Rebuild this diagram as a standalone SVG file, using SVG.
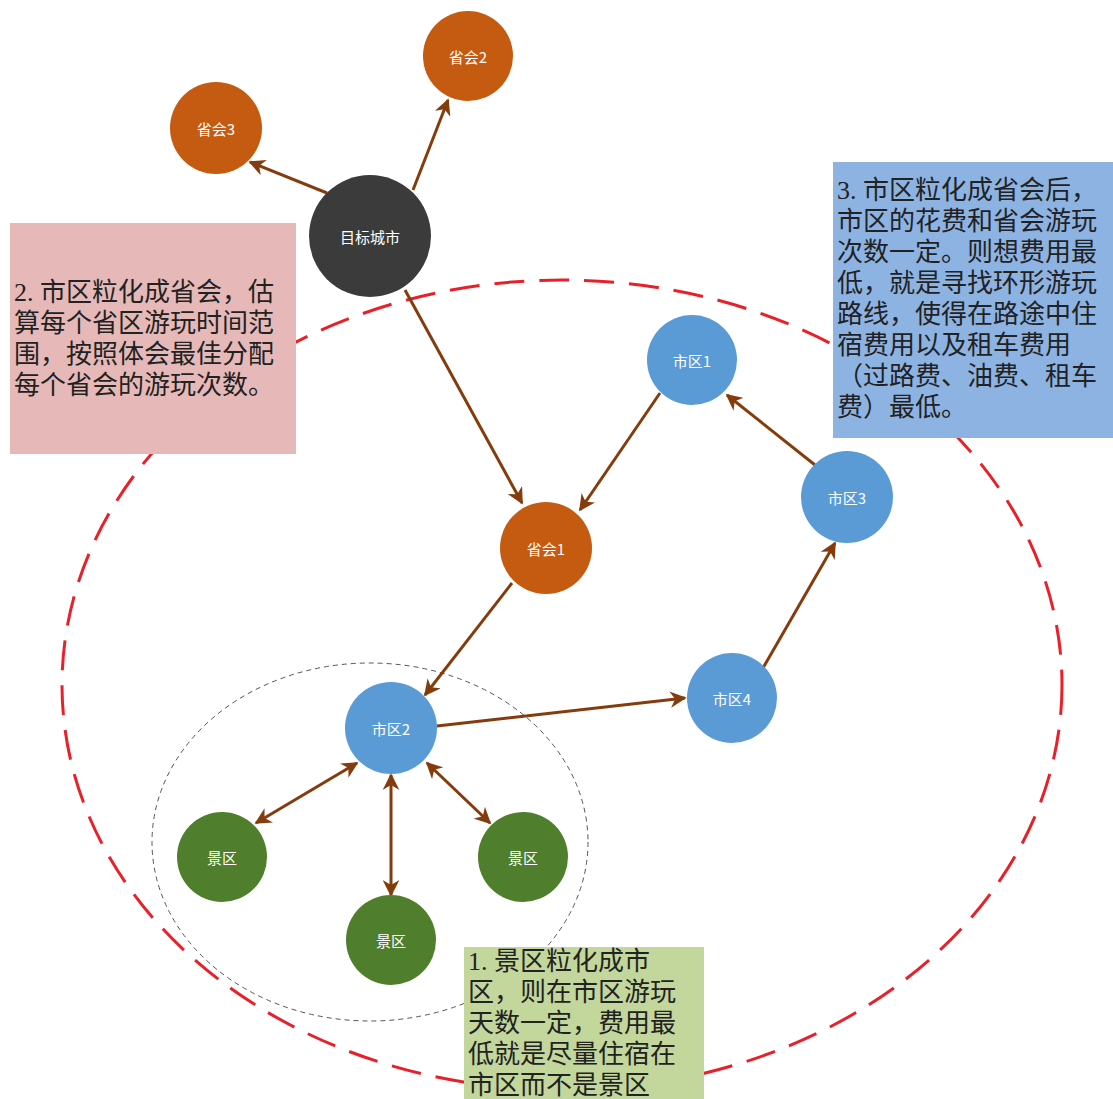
<svg xmlns="http://www.w3.org/2000/svg" width="1113" height="1099" viewBox="0 0 1113 1099">
<defs>
<marker id="ah" viewBox="0 0 10 10" refX="9" refY="5" markerWidth="5.5" markerHeight="5.5" orient="auto-start-reverse" markerUnits="strokeWidth">
<path d="M0,0 L10,5 L0,10 L3,5 z" fill="#843c0c"/>
</marker>
<style>
.n text{font-family:"Noto Sans CJK SC","Liberation Sans",sans-serif;font-size:15px;fill:#fff;text-anchor:middle;dominant-baseline:central}
.orange{fill:#c55a11}
.blue{fill:#5b9bd5}
.green{fill:#4f7e2c}
.dark{fill:#3b3b3b}
.e{stroke:#843c0c;stroke-width:3;fill:none}
.note{font-family:"Liberation Serif","Noto Sans CJK SC",serif;font-size:26px;fill:#222}
</style>
</defs>
<rect width="1113" height="1099" fill="#fff"/>
<ellipse cx="562" cy="685" rx="500" ry="405" fill="none" stroke="#e8202a" stroke-width="3" stroke-dasharray="30 15"/>
<ellipse cx="370" cy="842" rx="218" ry="179" fill="none" stroke="#555" stroke-width="1" stroke-dasharray="5 4"/>
<g id="connectors">
<line class="e" x1="327" y1="193" x2="250" y2="162" marker-end="url(#ah)"/>
<line class="e" x1="413" y1="190" x2="448" y2="100" marker-end="url(#ah)"/>
<line class="e" x1="405" y1="290" x2="522" y2="503" marker-end="url(#ah)"/>
<line class="e" x1="660" y1="393" x2="580" y2="510" marker-end="url(#ah)"/>
<line class="e" x1="512" y1="583" x2="425" y2="695" marker-end="url(#ah)"/>
<line class="e" x1="437" y1="726" x2="685" y2="698" marker-end="url(#ah)"/>
<line class="e" x1="763" y1="668" x2="835" y2="543" marker-end="url(#ah)"/>
<line class="e" x1="815" y1="465" x2="727" y2="395" marker-end="url(#ah)"/>
<line class="e" x1="357" y1="763" x2="256" y2="823" marker-start="url(#ah)" marker-end="url(#ah)"/>
<line class="e" x1="391" y1="775" x2="391" y2="895" marker-start="url(#ah)" marker-end="url(#ah)"/>
<line class="e" x1="427" y1="763" x2="490" y2="823" marker-start="url(#ah)" marker-end="url(#ah)"/>
</g>
<g id="n-target" class="n"><circle class="dark" cx="370" cy="236" r="61"/><text x="370" y="236">目标城市</text></g>
<g id="n-p2" class="n"><circle class="orange" cx="468" cy="56" r="45"/><text x="468" y="56">省会2</text></g>
<g id="n-p3" class="n"><circle class="orange" cx="216" cy="128" r="46"/><text x="216" y="128">省会3</text></g>
<g id="n-p1" class="n"><circle class="orange" cx="546" cy="548" r="46"/><text x="546" y="548">省会1</text></g>
<g id="n-c1" class="n"><circle class="blue" cx="692" cy="360" r="45"/><text x="692" y="360">市区1</text></g>
<g id="n-c3" class="n"><circle class="blue" cx="847" cy="497" r="46"/><text x="847" y="497">市区3</text></g>
<g id="n-c4" class="n"><circle class="blue" cx="732" cy="698" r="45"/><text x="732" y="698">市区4</text></g>
<g id="n-c2" class="n"><circle class="blue" cx="391" cy="728" r="46"/><text x="391" y="728">市区2</text></g>
<g id="n-s1" class="n"><circle class="green" cx="222" cy="857" r="45"/><text x="222" y="857">景区</text></g>
<g id="n-s2" class="n"><circle class="green" cx="523" cy="857" r="45"/><text x="523" y="857">景区</text></g>
<g id="n-s3" class="n"><circle class="green" cx="391" cy="940" r="45"/><text x="391" y="940">景区</text></g>
<g id="note2">
<rect x="10" y="223" width="286" height="231" fill="#e6b9b8"/>
<text class="note" x="14" y="301">2. 市区粒化成省会，估</text>
<text class="note" x="14" y="332">算每个省区游玩时间范</text>
<text class="note" x="14" y="363">围，按照体会最佳分配</text>
<text class="note" x="14" y="394">每个省会的游玩次数。</text>
</g>
<g id="note3">
<rect x="833" y="162" width="280" height="276" fill="#8db3e2"/>
<text class="note" x="837" y="199">3. 市区粒化成省会后，</text>
<text class="note" x="837" y="230">市区的花费和省会游玩</text>
<text class="note" x="837" y="261">次数一定。则想费用最</text>
<text class="note" x="837" y="292">低，就是寻找环形游玩</text>
<text class="note" x="837" y="323">路线，使得在路途中住</text>
<text class="note" x="837" y="354">宿费用以及租车费用</text>
<text class="note" x="837" y="385">（过路费、油费、租车</text>
<text class="note" x="837" y="416">费）最低。</text>
</g>
<g id="note1">
<rect x="464" y="947" width="240" height="152" fill="#c3d69b"/>
<text class="note" x="468" y="970">1. 景区粒化成市</text>
<text class="note" x="468" y="1001">区，则在市区游玩</text>
<text class="note" x="468" y="1032">天数一定，费用最</text>
<text class="note" x="468" y="1063">低就是尽量住宿在</text>
<text class="note" x="468" y="1094">市区而不是景区</text>
</g>
</svg>
